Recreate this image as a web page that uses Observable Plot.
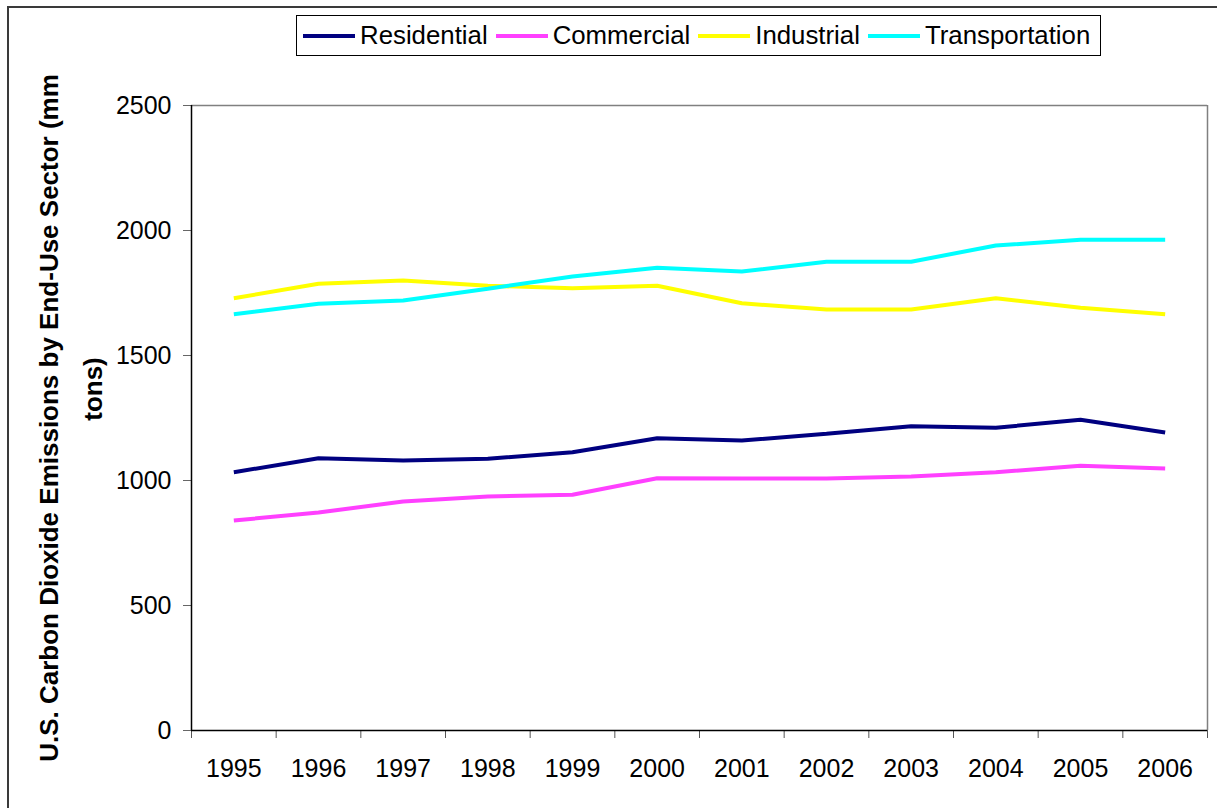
<!DOCTYPE html>
<html>
<head>
<meta charset="utf-8">
<script src="https://cdn.jsdelivr.net/npm/d3@7"></script>
<script src="https://cdn.jsdelivr.net/npm/@observablehq/plot@0.6"></script>
<style>
  html, body { margin: 0; padding: 0; background: #fff; overflow: hidden; }
  #wrap { position: relative; width: 1217px; height: 808px; }
  #frame { position: absolute; left: 7px; top: 6px; width: 1300px; height: 900px; border: 2px solid #3a3a3a; box-sizing: border-box; pointer-events: none; }
  #legend { position: absolute; left: 296px; top: 15px; width: 805px; height: 41px; border: 1px solid #000; box-sizing: border-box; background: #fff;
            display: flex; align-items: center; font-family: "Liberation Sans", Arial, sans-serif; font-size: 25.8px; color: #000; padding-left: 6px; }
  .item { display: flex; align-items: center; margin-right: 8px; }
  .swatch { width: 52px; height: 4px; margin-right: 5px; }
  #chart { position: absolute; left: 0; top: 0; }
</style>
</head>
<body>
<div id="wrap">
  <div id="chart"></div>
  <div id="frame"></div>
  <div id="legend"></div>
</div>
<script>
const years = [1995, 1996, 1997, 1998, 1999, 2000, 2001, 2002, 2003, 2004, 2005, 2006];
const residential = [1033, 1089, 1080, 1087, 1113, 1169, 1160, 1187, 1217, 1211, 1243, 1192];
const commercial = [840, 872, 916, 936, 943, 1009, 1008, 1008, 1016, 1033, 1059, 1048];
const industrial = [1729, 1787, 1800, 1779, 1769, 1779, 1709, 1684, 1684, 1729, 1691, 1665];
const transportation = [1665, 1707, 1720, 1767, 1816, 1851, 1836, 1875, 1875, 1940, 1963, 1963];
const seriesNames = ["Residential", "Commercial", "Industrial", "Transportation"];
const seriesColors = ["#000080", "#ff40ff", "#ffff00", "#00ffff"];
const yTicks = [0, 500, 1000, 1500, 2000, 2500];
const yTitleLines = ["U.S. Carbon Dioxide Emissions by End-Use Sector (mm", "tons)"];

const seriesValues = [residential, commercial, industrial, transportation];
const data = [];
seriesNames.forEach((name, i) => {
  years.forEach((yr, j) => data.push({ series: name, year: yr, value: seriesValues[i][j] }));
});
const boundaries = years.map(y => y - 0.5).concat([years[years.length - 1] + 0.5]);
const xDomain = [boundaries[0], boundaries[boundaries.length - 1]];

const chart = Plot.plot({
  width: 1217,
  height: 808,
  marginLeft: 191,
  marginRight: 10,
  marginTop: 105,
  marginBottom: 78,
  style: { fontFamily: "'Liberation Sans', Arial, sans-serif", fontSize: "25px", background: "transparent", color: "#000" },
  x: { type: "linear", domain: xDomain },
  y: { domain: [yTicks[0], yTicks[yTicks.length - 1]] },
  color: { domain: seriesNames, range: seriesColors },
  marks: [
    Plot.ruleY([yTicks[yTicks.length - 1]], { stroke: "#808080", strokeWidth: 1.5 }),
    Plot.ruleX([xDomain[1]], { stroke: "#808080", strokeWidth: 1.5 }),
    Plot.line(data, { x: "year", y: "value", z: "series", stroke: "series", strokeWidth: 4, strokeLinejoin: "miter", strokeLinecap: "butt" }),
    Plot.axisY({ ticks: yTicks, tickSize: 8, tickPadding: 12, label: null, stroke: "#666", fill: "#000", tickFormat: d => String(d) }),
    Plot.axisX({ ticks: boundaries, tickSize: 8, tickFormat: () => "", label: null, stroke: "#555" }),
    Plot.axisX({ ticks: years, tickSize: 0, tickPadding: 29, tickFormat: d => String(d), label: null, fill: "#000" }),
    Plot.ruleX([xDomain[0]], { stroke: "#000", strokeWidth: 1.5 }),
    Plot.ruleY([yTicks[0]], { stroke: "#000", strokeWidth: 1.5 }),
    Plot.text([yTitleLines[0]], { frameAnchor: "left", text: d => d, rotate: -90, dx: -142, fontSize: 26, fontWeight: "bold", textAnchor: "middle", fill: "#000" }),
    Plot.text([yTitleLines[1]], { frameAnchor: "left", text: d => d, rotate: -90, dx: -98, dy: -29, fontSize: 26, fontWeight: "bold", textAnchor: "middle", fill: "#000" })
  ]
});
document.getElementById("chart").appendChild(chart);

const legend = document.getElementById("legend");
seriesNames.forEach((name, i) => {
  const item = document.createElement("div");
  item.className = "item";
  const sw = document.createElement("div");
  sw.className = "swatch";
  sw.style.background = seriesColors[i];
  const label = document.createElement("span");
  label.textContent = name;
  item.appendChild(sw);
  item.appendChild(label);
  legend.appendChild(item);
});
</script>
</body>
</html>
